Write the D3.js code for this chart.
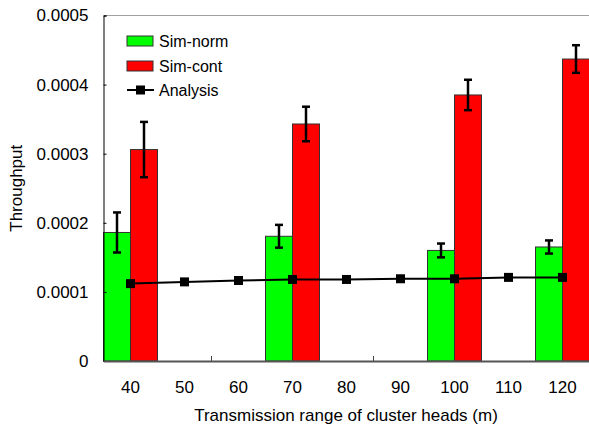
<!DOCTYPE html>
<html>
<head>
<meta charset="utf-8">
<script src="https://cdn.jsdelivr.net/npm/d3@7"></script>
<style>
  body { margin: 0; background: #fff; }
  svg text { font-family: "Liberation Sans", Arial, sans-serif; fill: #000; }
</style>
</head>
<body>
<div id="chart"></div>
<script>
// transmission ranges (x categories)
var ranges = [40, 50, 60, 70, 80, 90, 100, 110, 120];
// ranges where simulation bars exist
var barRanges = [40, 70, 100, 120];
var simNorm = [0.000186, 0.0001805, 0.000160, 0.000165];
var simNormErr = [0.000029, 0.0000165, 0.00001, 0.0000095];
var simCont = [0.000306, 0.000343, 0.000385, 0.000437];
var simContErr = [0.00004, 0.000025, 0.000022, 0.00002];
var analysis = [0.000112, 0.0001145, 0.0001165, 0.000118, 0.000118, 0.000119, 0.000119, 0.000121, 0.000121];
var yTicks = [0, 0.0001, 0.0002, 0.0003, 0.0004, 0.0005];

var width = 589;
var height = 428;
var plotLeft = 103.5;
var plotRight = 589.5;
var plotTop = 15.5;
var plotBottom = 361;

var svg = d3
  .select("#chart")
  .append("svg")
  .attr("width", width)
  .attr("height", height);

var xScale = d3
  .scaleBand()
  .domain(ranges)
  .range([plotLeft, plotRight])
  .padding(0);
var bw = xScale.bandwidth();

var yScale = d3
  .scaleLinear()
  .domain([0, 0.0005])
  .range([plotBottom, plotTop]);

// inner x ticks at band boundaries (drawn under the bars)
var bounds = ranges.slice(1).map(function(r) {
  return xScale(r);
});
svg
  .append("g")
  .selectAll("line")
  .data(bounds)
  .enter()
  .append("line")
  .attr("x1", function(d) { return d; })
  .attr("x2", function(d) { return d; })
  .attr("y1", plotBottom)
  .attr("y2", plotBottom - 5)
  .attr("stroke", "#444")
  .attr("stroke-width", 1);

// top frame line
svg
  .append("line")
  .attr("x1", plotLeft)
  .attr("x2", plotRight)
  .attr("y1", plotTop)
  .attr("y2", plotTop)
  .attr("stroke", "#a0a0a0")
  .attr("stroke-width", 1);

var bars = barRanges.map(function(r, i) {
  return { r: r, norm: simNorm[i], normErr: simNormErr[i], cont: simCont[i], contErr: simContErr[i] };
});

var groups = svg
  .append("g")
  .selectAll("g")
  .data(bars)
  .enter()
  .append("g");

groups
  .append("rect")
  .attr("x", function(d) { return xScale(d.r); })
  .attr("width", bw / 2)
  .attr("y", function(d) { return yScale(d.norm); })
  .attr("height", function(d) { return plotBottom - yScale(d.norm); })
  .attr("fill", "#00ff00")
  .attr("stroke", "#333")
  .attr("stroke-width", 1);

groups
  .append("rect")
  .attr("x", function(d) { return xScale(d.r) + bw / 2; })
  .attr("width", bw / 2)
  .attr("y", function(d) { return yScale(d.cont); })
  .attr("height", function(d) { return plotBottom - yScale(d.cont); })
  .attr("fill", "#ff0000")
  .attr("stroke", "#333")
  .attr("stroke-width", 1);

// axes
var yAxis = d3
  .axisLeft(yScale)
  .tickValues(yTicks)
  .tickSize(-3)
  .tickPadding(15)
  .tickFormat(function(d) { return d === 0 ? "0" : d.toFixed(4); });
var gy = svg
  .append("g")
  .attr("transform", "translate(" + plotLeft + ",0)")
  .call(yAxis);
gy.select(".domain").attr("stroke", "#000");
gy.selectAll(".tick line").attr("stroke", "#000");
gy.selectAll("text").attr("font-size", 17).attr("font-family", null);

var xAxis = d3.axisBottom(xScale).tickSize(0).tickPadding(20);
var gx = svg
  .append("g")
  .attr("transform", "translate(0," + plotBottom + ")")
  .call(xAxis);
gx.select(".domain").attr("stroke", "#555").attr("stroke-width", 2);
gx.selectAll("text").attr("font-size", 17).attr("font-family", null);

// error bars
function errorBar(sel, xOff, val, err) {
  sel
    .append("line")
    .attr("x1", function(d) { return xScale(d.r) + xOff; })
    .attr("x2", function(d) { return xScale(d.r) + xOff; })
    .attr("y1", function(d) { return yScale(d[val] + d[err]); })
    .attr("y2", function(d) { return yScale(d[val] - d[err]); })
    .attr("stroke", "#000")
    .attr("stroke-width", 2.5);
  [1, -1].forEach(function(s) {
    sel
      .append("line")
      .attr("x1", function(d) { return xScale(d.r) + xOff - 4; })
      .attr("x2", function(d) { return xScale(d.r) + xOff + 4; })
      .attr("y1", function(d) { return yScale(d[val] + s * d[err]); })
      .attr("y2", function(d) { return yScale(d[val] + s * d[err]); })
      .attr("stroke", "#000")
      .attr("stroke-width", 2.5);
  });
}
errorBar(groups, bw / 4, "norm", "normErr");
errorBar(groups, bw * 3 / 4, "cont", "contErr");

// analysis line
var line = d3
  .line()
  .x(function(d, i) { return xScale(ranges[i]) + bw / 2; })
  .y(function(d) { return yScale(d); });
svg
  .append("path")
  .datum(analysis)
  .attr("d", line)
  .attr("fill", "none")
  .attr("stroke", "#000")
  .attr("stroke-width", 2);
svg
  .append("g")
  .selectAll("rect")
  .data(analysis)
  .enter()
  .append("rect")
  .attr("x", function(d, i) { return xScale(ranges[i]) + bw / 2 - 4.5; })
  .attr("y", function(d) { return yScale(d) - 4.5; })
  .attr("width", 9)
  .attr("height", 9)
  .attr("fill", "#000");

// legend
var legend = svg.append("g").attr("transform", "translate(127,0)");
legend.append("rect").attr("x", 0).attr("y", 36).attr("width", 26).attr("height", 10)
  .attr("fill", "#00ff00").attr("stroke", "#333");
legend.append("rect").attr("x", 0).attr("y", 61).attr("width", 26).attr("height", 10)
  .attr("fill", "#ff0000").attr("stroke", "#333");
legend.append("line").attr("x1", 0).attr("x2", 27).attr("y1", 90).attr("y2", 90)
  .attr("stroke", "#000").attr("stroke-width", 2);
legend.append("rect").attr("x", 9).attr("y", 85.5).attr("width", 9).attr("height", 9).attr("fill", "#000");
var labels = ["Sim-norm", "Sim-cont", "Analysis"];
legend
  .selectAll("text")
  .data(labels)
  .enter()
  .append("text")
  .attr("x", 32)
  .attr("y", function(d, i) { return [41, 66, 90][i]; })
  .attr("dy", "0.35em")
  .attr("font-size", 16)
  .text(function(d) { return d; });

// axis titles
svg
  .append("text")
  .attr("text-anchor", "middle")
  .attr("font-size", 17)
  .attr("transform", "translate(22," + (plotTop + plotBottom) / 2 + ")rotate(-90)")
  .text("Throughput");
svg
  .append("text")
  .attr("text-anchor", "middle")
  .attr("font-size", 17)
  .attr("x", 346)
  .attr("y", 421)
  .text("Transmission range of cluster heads (m)");
</script>
</body>
</html>
